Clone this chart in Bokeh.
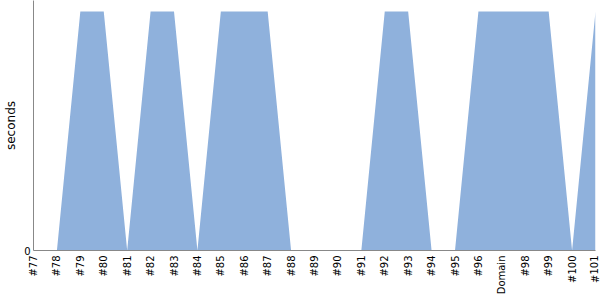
from bokeh.plotting import figure
from bokeh.models import Range1d, FixedTicker
from bokeh.embed import file_html
from bokeh.resources import INLINE

labels = ["#77", "#78", "#79", "#80", "#81", "#82", "#83", "#84", "#85", "#86",
          "#87", "#88", "#89", "#90", "#91", "#92", "#93", "#94", "#95", "#96",
          "Domain", "#98", "#99", "#100", "#101"]
values = [0, 0, 1, 1, 0, 1, 1, 0, 1, 1,
          1, 0, 0, 0, 0, 1, 1, 0, 0, 1,
          1, 1, 1, 0, 1]

xs = list(range(len(labels)))
FONT = "DejaVu Sans"

p = figure(width=600, height=300, output_backend="svg", toolbar_location=None,
           x_range=Range1d(0, len(labels) - 1), y_range=Range1d(0, 1.046),
           min_border_left=33, min_border_right=5, min_border_top=0, min_border_bottom=50)
p.outline_line_color = None
p.background_fill_color = "white"
p.border_fill_color = "white"
p.grid.visible = False

p.varea(x=xs, y1=[0] * len(xs), y2=values, fill_color="#8fb1dc", fill_alpha=1)

xa = p.xaxis[0]
ya = p.yaxis[0]
xa.ticker = FixedTicker(ticks=xs)
xa.major_label_overrides = {i: l for i, l in enumerate(labels)}
xa.major_label_orientation = 1.5708
xa.major_tick_line_color = None
xa.minor_tick_line_color = None
xa.major_tick_out = 0
xa.major_tick_in = 0
xa.minor_tick_out = 0
xa.minor_tick_in = 0
xa.axis_line_color = "#888888"
xa.major_label_text_font = FONT
xa.major_label_text_font_size = "10px"
xa.major_label_text_color = "#000000"
xa.major_label_standoff = 5

ya.ticker = FixedTicker(ticks=[0])
ya.major_tick_line_color = None
ya.minor_tick_line_color = None
ya.major_tick_out = 0
ya.major_tick_in = 0
ya.minor_tick_out = 0
ya.minor_tick_in = 0
ya.axis_line_color = "#888888"
ya.major_label_text_font = FONT
ya.major_label_text_font_size = "10px"
ya.major_label_text_color = "#000000"
ya.major_label_standoff = 3
ya.axis_label = "seconds"
ya.axis_label_text_font = FONT
ya.axis_label_text_font_size = "12px"
ya.axis_label_text_font_style = "normal"
ya.axis_label_text_color = "#000000"
ya.axis_label_standoff = 3

open("out.html", "w").write(file_html(p, INLINE))
